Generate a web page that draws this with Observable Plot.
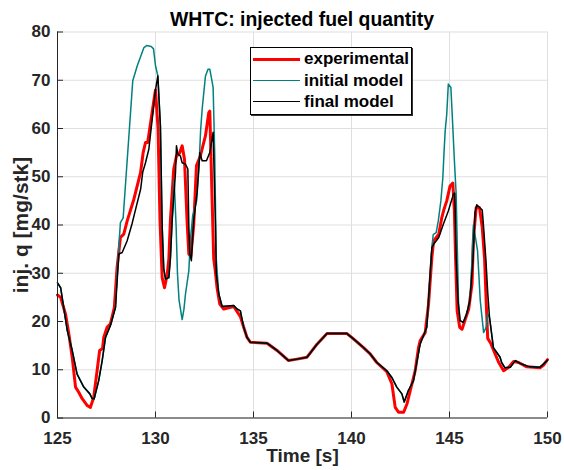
<!DOCTYPE html>
<html><head><meta charset="utf-8">
<script src="https://cdn.jsdelivr.net/npm/d3@7"></script>
<script src="https://cdn.jsdelivr.net/npm/@observablehq/plot@0.6"></script>
<style>
body{margin:0;background:#fff;}
#wrap{position:relative;width:564px;height:470px;font-family:"Liberation Sans",Arial,sans-serif;font-weight:bold;}
#title{position:absolute;left:57px;width:490px;top:10px;text-align:center;font-size:19.4px;line-height:19px;color:#000;white-space:nowrap;}
#legend{position:absolute;left:250px;top:47px;width:160px;height:66px;border:1px solid #000;background:#fff;box-shadow:1px 1px 0 #333;}
.row{position:absolute;left:0;height:21px;display:flex;align-items:center;font-size:17px;color:#000;white-space:nowrap;}
.sw{display:inline-block;width:47px;margin-left:2px;margin-right:4px;}
#chart{position:absolute;left:0;top:0;}
</style></head>
<body>
<div id="wrap">
<div id="chart"></div>
<div id="title">WHTC: injected fuel quantity</div>
<div id="legend"></div>
</div>
<script>
const xTicks = [125,130,135,140,145,150];
const yTicks = [0,10,20,30,40,50,60,70,80];
const seriesNames = ["experimental","initial model","final model"];
const seriesColors = ["#ff0000","#008080","#000000"];
const seriesWidths = [3,1.5,1.5];

const expT = [125.0,125.16,125.41,125.58,125.75,125.92,126.09,126.26,126.51,126.68,126.85,127.02,127.15,127.3,127.36,127.53,127.7,127.9,128.04,128.21,128.38,128.56,128.9,129.24,129.37,129.49,129.6,129.75,129.95,130.0,130.13,130.23,130.34,130.46,130.6,130.68,130.76,130.93,131.07,131.22,131.36,131.48,131.61,131.7,131.8,131.95,132.09,132.29,132.55,132.72,132.77,132.89,132.97,133.05,133.14,133.28,133.48,133.99,134.33,134.5,134.67,134.84,135.69,136.2,136.79,137.22,137.73,138.24,138.75,139.77,140.1,140.61,140.95,141.29,141.8,142.06,142.23,142.4,142.66,142.83,143.0,143.25,143.42,143.5,143.76,143.93,144.1,144.19,144.45,144.61,144.7,144.86,145.03,145.17,145.25,145.3,145.39,145.52,145.64,145.81,145.98,146.15,146.22,146.36,146.53,146.67,146.79,146.87,146.95,147.1,147.2,147.51,147.76,148.02,148.27,148.53,148.94,149.62,149.79,149.96,150.0];
const expQ = [25.5,25,21.5,17.4,12.6,6.4,5.3,4.0,2.6,2.2,4.3,9.8,14,14.4,16.7,18.8,19.5,22.9,31.2,37.4,38.1,40.9,45.4,50.9,55,57.1,57.1,61.2,66.7,68,60,40.9,29.1,27,29.8,32.9,40.9,51.6,54.3,54.8,56.4,53.6,40.9,34,33.5,40,52.3,54.3,58.5,63.3,63.6,45,33,30.5,27,23.6,22.6,23.1,21,18.8,16.7,15.7,15.5,14,11.9,12.2,12.6,15.3,17.5,17.5,16.4,14.6,13.3,11.5,9.6,7.1,2.2,1.2,1.2,2.9,5.7,9.8,14.6,16,17.7,23.6,33.3,36.7,38.1,41.6,43,45,48.1,48.7,42.9,34.7,22.2,18.8,18.4,20.5,22.6,27.8,37,43.6,43.6,39.5,33,24.3,16.5,15.5,14.5,11.5,9.8,10.5,11.7,11.5,10.6,10.4,10.9,11.9,12.1];

const initT = [125.0,125.16,125.5,125.75,126.0,126.34,126.65,126.77,126.87,127.1,127.28,127.45,127.7,127.96,128.06,128.21,128.35,128.84,129.07,129.4,129.55,129.78,129.9,130.0,130.12,130.25,130.34,130.42,130.51,130.68,130.76,130.85,130.95,131.05,131.12,131.2,131.36,131.45,131.53,131.7,131.78,131.9,132.1,132.22,132.3,132.38,132.55,132.68,132.77,132.94,133.02,133.1,133.23,133.4,133.99,134.16,134.33,134.5,134.67,134.84,135.69,136.2,136.79,137.22,137.73,138.24,138.75,139.77,140.1,140.61,140.95,141.29,141.8,142.06,142.31,142.57,142.69,142.9,143.16,143.5,143.84,144.1,144.17,144.32,144.43,144.56,144.66,144.72,144.78,144.86,144.94,145.07,145.17,145.25,145.34,145.4,145.46,145.54,145.7,145.87,146.04,146.15,146.22,146.3,146.43,146.57,146.74,146.87,146.95,147.04,147.24,147.58,147.66,147.83,148.1,148.36,148.6,149.1,149.6,149.96,150.0];
const initQ = [28,27,18.1,14,9.1,6.4,5,4,4,7.7,11.9,16.7,19.2,23,31.5,40.5,41.5,69.9,73,76.7,77.2,77,76.5,73,70.9,60.5,39.8,31,28.8,29.1,33,41,49.5,40,30,24.5,20.4,22.5,25.7,30.5,37,42,45,52,59.5,64,70.9,72.3,72.3,68.5,55,33,25.7,23.1,23.3,22.6,22.2,18.8,16.7,15.7,15.5,14,11.9,12.2,12.6,15.3,17.5,17.5,16.4,14.6,13.3,11.5,9.8,8.4,6.4,5,3.3,5.7,7.7,15.3,18.8,35.3,38,38.4,40.9,45,49.8,55,59.5,63,69.2,68.5,60.2,53.3,46.4,35,24,20.2,19.8,21.5,24.3,33,40,38,34.7,24.3,17.7,18.8,21.5,20.9,14.6,12.6,11.5,10.4,10.5,11.9,11.3,10.6,10.5,11.8,12];

const finT = [125.0,125.16,125.5,125.75,126.0,126.34,126.65,126.77,126.87,127.1,127.28,127.45,127.7,127.96,128.13,128.3,128.55,128.8,129.0,129.24,129.35,129.49,129.66,129.83,130.0,130.12,130.25,130.34,130.42,130.51,130.68,130.76,130.85,131.02,131.07,131.14,131.27,131.36,131.53,131.65,131.7,131.75,131.83,131.95,132.12,132.26,132.38,132.6,132.77,132.94,133.06,133.1,133.23,133.4,133.99,134.16,134.33,134.5,134.67,134.84,135.69,136.2,136.79,137.22,137.73,138.24,138.75,139.77,140.1,140.61,140.95,141.29,141.8,142.06,142.31,142.57,142.69,142.9,143.16,143.5,143.84,144.1,144.19,144.45,144.69,144.94,145.2,145.27,145.34,145.44,145.54,145.7,145.87,146.04,146.2,146.3,146.39,146.67,146.74,146.86,146.95,147.04,147.24,147.58,147.66,147.83,148.1,148.36,148.6,149.1,149.6,149.96,150.0];
const finQ = [28,27,18.1,14,9.1,6.4,5,4,4,7.7,11.9,16.7,19.2,22.9,34,34.3,36.7,40.2,43.5,47.4,51,52.9,55.7,61.9,68,70.9,60.5,39.8,31,28.8,29.1,33,40.9,50.9,56.4,54.7,54.3,52.9,52.6,51.6,39.8,34,32.6,40.9,46.7,55,53.3,53.3,55,59.2,39.8,30,25.7,23.1,23.3,22.6,22.2,18.8,16.7,15.7,15.5,14,11.9,12.2,12.6,15.3,17.5,17.5,16.4,14.6,13.3,11.5,9.8,8.4,6.4,5,3.3,5.7,7.7,15.3,18.8,35.3,36,37.4,40.2,42.9,46.4,46.6,33,24,20.2,19.8,21.5,24.3,33,42.5,44.2,43.1,39.5,32.6,26,20.9,14.6,12.6,11.5,10.4,10.5,11.9,11.3,10.6,10.5,11.8,12];

const toRows = (T, Q) => T.map((t, i) => ({t, q: Q[i]}));
const expData = toRows(expT, expQ);
const initData = toRows(initT, initQ);
const finData = toRows(finT, finQ);

const W = 564, H = 470, mL = 57, mR = 17, mT = 31.5, mB = 52.5;
const plotW = W - mL - mR, plotH = H - mT - mB;
const axisColor = "#262626";
const gridColor = "#dfdfdf";

const chart = Plot.plot({
  width: W, height: H,
  marginLeft: mL, marginRight: mR, marginTop: mT, marginBottom: mB,
  style: {fontFamily: '"Liberation Sans", Arial, sans-serif', fontSize: "17px", fontWeight: "bold", color: axisColor, background: "#fff"},
  x: {domain: [125, 150]},
  y: {domain: [0, 80]},
  marks: [
    Plot.gridX(xTicks, {stroke: gridColor, strokeOpacity: 1}),
    Plot.gridY(yTicks, {stroke: gridColor, strokeOpacity: 1}),
    Plot.line(expData, {x: "t", y: "q", stroke: seriesColors[0], strokeWidth: seriesWidths[0], strokeLinejoin: "round"}),
    Plot.line(initData, {x: "t", y: "q", stroke: seriesColors[1], strokeWidth: seriesWidths[1], strokeLinejoin: "round"}),
    Plot.line(finData, {x: "t", y: "q", stroke: seriesColors[2], strokeWidth: seriesWidths[2], strokeLinejoin: "round"}),
    Plot.ruleX([125], {stroke: axisColor}),
    Plot.ruleY([0], {stroke: axisColor}),
    Plot.tickX(xTicks, {x: d => d, stroke: axisColor, insetTop: plotH - 6}),
    Plot.tickY(yTicks, {y: d => d, stroke: axisColor, insetRight: plotW - 6}),
    Plot.axisX(xTicks, {tickSize: 0, tickPadding: 14, label: null, fill: axisColor}),
    Plot.axisY(yTicks, {tickSize: 0, tickPadding: 7, label: null, fill: axisColor}),
    Plot.text(["Time [s]"], {frameAnchor: "bottom", dy: 44, fontSize: 19, fontWeight: "bold", fill: axisColor}),
    Plot.text(["inj. q [mg/stk]"], {frameAnchor: "left", textAnchor: "middle", dx: -36, rotate: -90, fontSize: 21, fontWeight: "bold", fill: axisColor})
  ]
});
document.getElementById("chart").appendChild(chart);

const legend = document.getElementById("legend");
const rowTops = [0.5, 22, 43];
seriesNames.forEach((name, i) => {
  const row = document.createElement("div");
  row.className = "row";
  row.style.top = rowTops[i] + "px";
  const sw = document.createElement("span");
  sw.className = "sw";
  sw.style.height = seriesWidths[i] + "px";
  sw.style.background = seriesColors[i];
  row.appendChild(sw);
  const tx = document.createElement("span");
  tx.textContent = name;
  row.appendChild(tx);
  legend.appendChild(row);
});
</script>
</body></html>
